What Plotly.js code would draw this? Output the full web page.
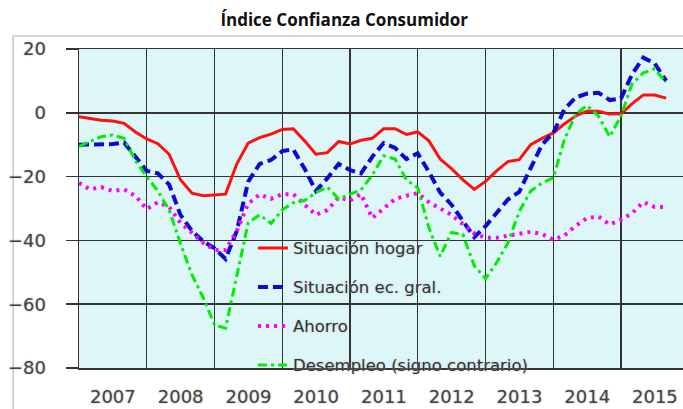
<!DOCTYPE html>
<html>
<head>
<meta charset="utf-8">
<script src="https://cdn.plot.ly/plotly-3.0.1.min.js"></script>
<style>
  body { margin: 0; background: #fff; }
  #chart { width: 683px; height: 409px; }
</style>
</head>
<body>
<div id="chart"></div>
<script>
// bimonthly points, Jan 2007 .. Sep 2015
var dates = [];
for (var yr = 2007; yr <= 2015; yr++) {
  for (var m = 1; m <= 11; m += 2) {
    if (yr === 2015 && m > 9) break;
    dates.push(yr + "-" + (m < 10 ? "0" + m : m) + "-01");
  }
}

var hogar = [
  -1.2, -1.8, -2.3, -2.6, -3.3, -6,
  -8.2, -9.7, -13, -21, -25.2, -26,
  -25.8, -25.5, -16, -9.5, -7.8, -6.7,
  -5.2, -5, -8.8, -13, -12.5, -9,
  -9.8, -8.6, -8, -5, -5, -6.8,
  -6, -8.8, -14.5, -17.5, -21, -24,
  -21.5, -18.2, -15.3, -14.7, -10, -8,
  -6.3, -3.5, -1, 0.5, 0.5, -0.4,
  -0.3, 2.8, 5.6, 5.6, 4.6
];

var general = [
  -10, -10, -10, -9.8, -9.3, -14,
  -18.2, -19, -22.5, -32, -37, -40.3,
  -42.5, -45.8, -37, -21.6, -16, -14.8,
  -12, -11.5, -17.5, -24.5, -20.5, -16,
  -18, -19, -13.8, -9.5, -11, -14.5,
  -12.7, -18.5, -25, -28.8, -34, -39,
  -35.5, -31.5, -27.2, -24.8, -17, -10,
  -6.3, 1, 4.8, 6, 6.3, 4,
  4.5, 12, 17.3, 15.5, 10
];

var ahorro = [
  -22, -24, -23.3, -24.5, -24, -26,
  -30.2, -28, -29.5, -34.5, -37.6, -40.8,
  -43, -43, -37, -28.5, -25.6, -27,
  -25.5, -25.5, -28.8, -32, -30.5, -26.5,
  -27.5, -25.5, -33, -30, -27, -26,
  -25.2, -28, -30, -32, -35, -37.8,
  -39.2, -39.2, -38.5, -37.8, -37.3, -38,
  -39.8, -38.5, -35.5, -33, -32.5, -35,
  -33.5, -31.5, -28, -29.5, -29.5
];

var desempleo = [
  -10.5, -9, -7.5, -7, -8, -15,
  -20, -24.5, -30.5, -41, -50.8, -58,
  -66.5, -67.5, -51, -34.5, -32, -34.7,
  -30.4, -28.2, -27.5, -25, -23.3, -27,
  -25.5, -24.2, -19.5, -13.5, -14.5, -21,
  -23.5, -36, -45, -37.5, -38.2, -48,
  -52, -47, -40.8, -31, -24.5, -22,
  -20.4, -8.5, -0.5, 2.3, -1, -7.5,
  -1, 9, 12.5, 13.8, 9.5
];

var names = [
  "Situación hogar",
  "Situación ec. gral.",
  "Ahorro",
  "Desempleo (signo contrario)"
];

var traces = [
  { x: dates, y: hogar, name: names[0], legendgroup: "a", type: "scatter", mode: "lines",
    line: { color: "#ff1010", width: 3 } },
  { x: dates, y: general, name: names[1], legendgroup: "b", type: "scatter", mode: "lines",
    line: { color: "#0a0ad0", width: 4, dash: "10px,5px" } },
  { x: dates, y: ahorro, name: names[2], legendgroup: "c", type: "scatter", mode: "lines",
    line: { color: "#ff00ff", width: 4, dash: "3px,5px" } },
  { x: dates, y: desempleo, name: names[3], legendgroup: "d", type: "scatter", mode: "lines",
    line: { color: "#00ee00", width: 3, dash: "9px,4px,3px,4px" } }
];

var tickFont = {
  family: "DejaVu Sans, sans-serif",
  size: 18,
  color: "#444",
  shadow: "0px 0px 2px #aaa"
};

var layout = {
  width: 683,
  height: 409,
  margin: { l: 79, r: 0, t: 49, b: 41 },
  paper_bgcolor: "#ffffff",
  plot_bgcolor: "#ddf6f7",
  showlegend: true,
  title: {
    text: "<b>Índice Confianza Consumidor</b>",
    font: { family: "Open Sans, sans-serif", size: 17, color: "#111" },
    xref: "container", yref: "container",
    x: 0.504, y: 0.951, xanchor: "center", yanchor: "middle"
  },
  xaxis: {
    type: "date",
    range: ["2007-01-01", "2015-12-01"],
    tick0: "2007-01-01",
    dtick: "M12",
    tickformat: "%Y",
    ticklabelmode: "period",
    ticks: "",
    ticklabelstandoff: 12,
    showgrid: true,
    gridcolor: "#333",
    gridwidth: 1.5,
    showline: true,
    linecolor: "#333",
    linewidth: 1.5,
    mirror: true,
    tickfont: tickFont,
    fixedrange: true
  },
  yaxis: {
    range: [-80, 20],
    tick0: 20,
    dtick: 20,
    ticks: "outside",
    ticklen: 12,
    tickwidth: 1.5,
    tickcolor: "#333",
    ticklabelstandoff: 16,
    showgrid: true,
    gridcolor: "#333",
    gridwidth: 1.5,
    zeroline: false,
    showline: true,
    linecolor: "#333",
    linewidth: 1.5,
    mirror: true,
    tickfont: tickFont,
    fixedrange: true
  },
  legend: {
    x: 0.288,
    y: 0.43,
    xanchor: "left",
    yanchor: "top",
    bgcolor: "rgba(0,0,0,0)",
    tracegroupgap: 14.5,
    font: { family: "DejaVu Sans, sans-serif", size: 16.5, color: "#333",
      shadow: "0px 0px 2px #bbb" }
  },
  shapes: [
    {
      type: "rect", xref: "paper", yref: "paper", layer: "below",
      x0: -0.109, x1: 1.05, y0: -0.3, y1: 1.041,
      line: { color: "#c8c8c8", width: 1.5 }
    }
  ]
};

document.addEventListener("DOMContentLoaded", () => {
  Plotly.newPlot("chart", traces, layout, { displayModeBar: false, staticPlot: true });
});
</script>
</body>
</html>
